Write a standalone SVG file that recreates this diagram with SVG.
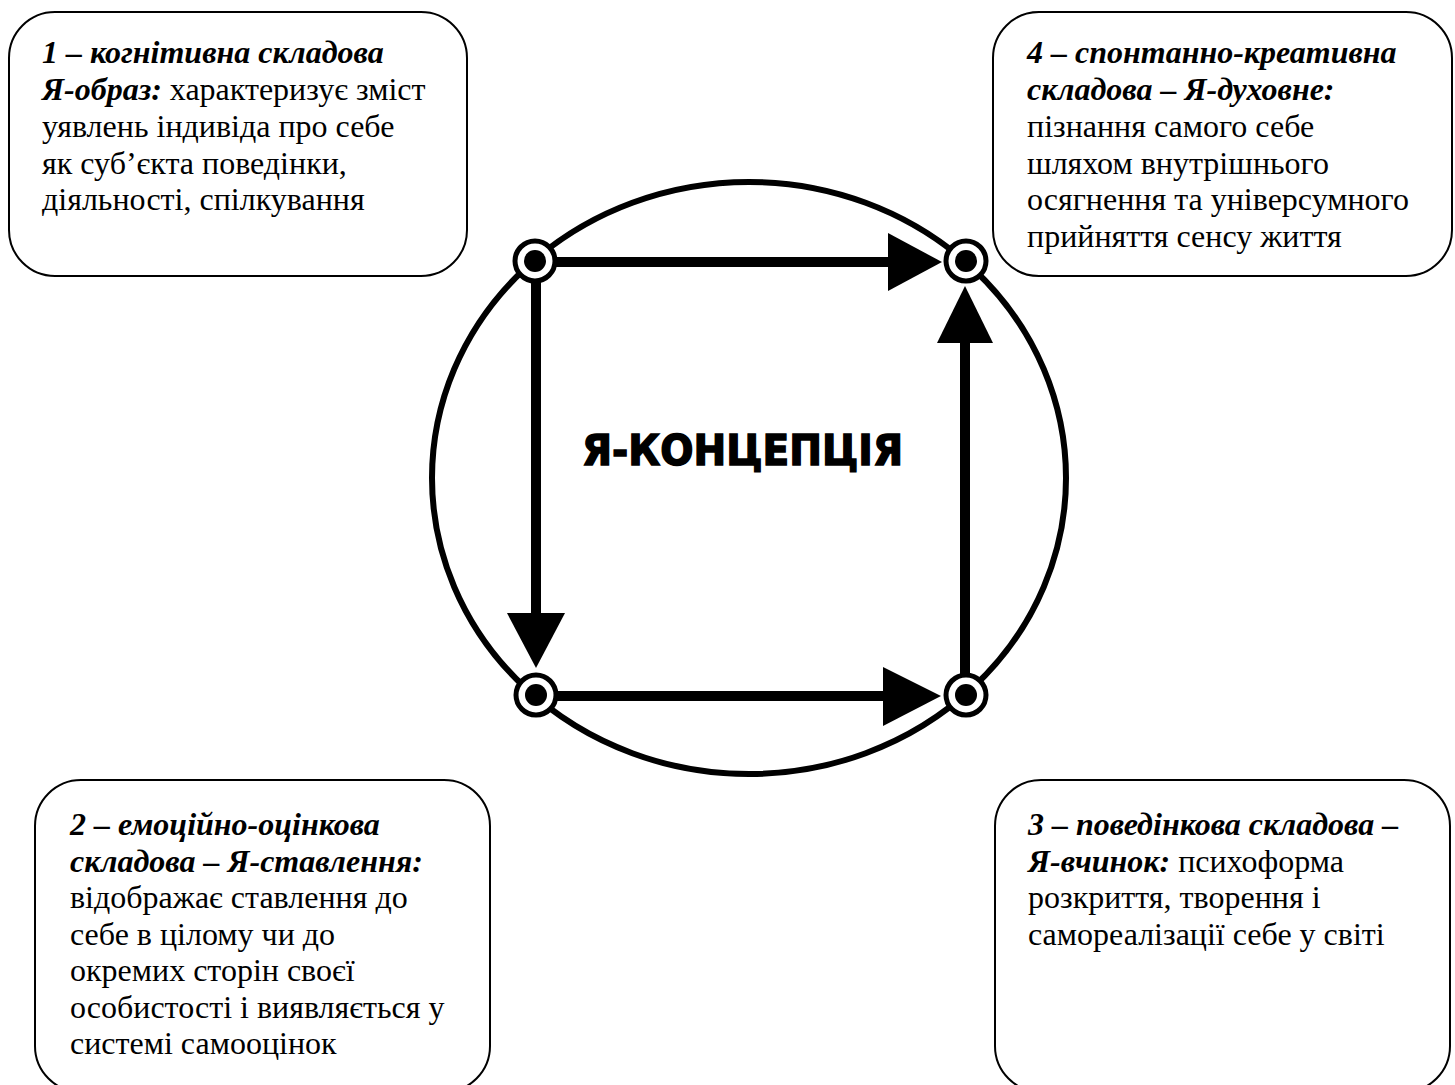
<svg xmlns="http://www.w3.org/2000/svg" width="1455" height="1085" viewBox="0 0 1455 1085">
<style>
.box{fill:#fff;stroke:#000;stroke-width:2}
.t{font-family:"Liberation Serif","Times New Roman",serif;font-size:32px;fill:#000}
.b{font-weight:bold;font-style:italic}
.ring{fill:#fff;stroke:#000;stroke-width:5}
.dot{fill:#000}
.ln{stroke:#000;stroke-width:10;fill:none}
.ah{fill:#000}
.center{font-family:"DejaVu Sans","Liberation Sans",sans-serif;font-weight:bold;font-size:43px;fill:#000;stroke:#000;stroke-width:1.5}
</style>
<rect width="1455" height="1085" fill="#fff"/>

<g id="box1">
<rect class="box" x="9" y="12" width="458" height="264" rx="46" ry="46"/>
<text class="t" x="42" y="63"><tspan class="b">1 – когнітивна складова</tspan></text>
<text class="t" x="42" y="100"><tspan class="b">Я-образ:</tspan> характеризує зміст</text>
<text class="t" x="42" y="136.5">уявлень індивіда про себе</text>
<text class="t" x="42" y="173.5">як суб’єкта поведінки,</text>
<text class="t" x="42" y="210">діяльності, спілкування</text>
</g>

<g id="box4">
<rect class="box" x="993" y="12" width="459" height="264" rx="46" ry="46"/>
<text class="t" x="1027" y="63"><tspan class="b">4 – спонтанно-креативна</tspan></text>
<text class="t" x="1027" y="100"><tspan class="b">складова – Я-духовне:</tspan></text>
<text class="t" x="1027" y="136.5">пізнання самого себе</text>
<text class="t" x="1027" y="173.5">шляхом внутрішнього</text>
<text class="t" x="1027" y="210">осягнення та універсумного</text>
<text class="t" x="1027" y="247">прийняття сенсу життя</text>
</g>

<g id="box2">
<rect class="box" x="35" y="780" width="455" height="312" rx="46" ry="46"/>
<text class="t" x="70" y="835"><tspan class="b">2 – емоційно-оцінкова</tspan></text>
<text class="t" x="70" y="871.5"><tspan class="b">складова – Я-ставлення:</tspan></text>
<text class="t" x="70" y="908">відображає ставлення до</text>
<text class="t" x="70" y="944.5">себе в цілому чи до</text>
<text class="t" x="70" y="981">окремих сторін своєї</text>
<text class="t" x="70" y="1017.5">особистості і виявляється у</text>
<text class="t" x="70" y="1054">системі самооцінок</text>
</g>

<g id="box3">
<rect class="box" x="995" y="780" width="455" height="312" rx="46" ry="46"/>
<text class="t" x="1028" y="835"><tspan class="b">3 – поведінкова складова –</tspan></text>
<text class="t" x="1028" y="871.5"><tspan class="b">Я-вчинок:</tspan> психоформа</text>
<text class="t" x="1028" y="908">розкриття, творення і</text>
<text class="t" x="1028" y="944.5">самореалізації себе у світі</text>
</g>

<g id="circle">
<ellipse cx="749" cy="478" rx="317" ry="296" fill="none" stroke="#000" stroke-width="6"/>
</g>

<g id="connectors">
<line class="ln" x1="555" y1="262" x2="890" y2="262"/>
<polygon class="ah" points="888,233 942,262 888,291"/>
<line class="ln" x1="536" y1="282" x2="536" y2="615"/>
<polygon class="ah" points="507,613 565,613 536,668"/>
<line class="ln" x1="556" y1="696" x2="885" y2="696"/>
<polygon class="ah" points="883,667 941,696 883,726"/>
<line class="ln" x1="965" y1="675" x2="965" y2="341"/>
<polygon class="ah" points="937,343 993,343 965,286"/>
</g>

<g id="node-tl"><circle class="ring" cx="535" cy="261" r="20"/><circle class="dot" cx="535" cy="261" r="11"/></g>
<g id="node-tr"><circle class="ring" cx="966" cy="261" r="20"/><circle class="dot" cx="966" cy="261" r="11"/></g>
<g id="node-bl"><circle class="ring" cx="536" cy="695" r="20"/><circle class="dot" cx="536" cy="695" r="11"/></g>
<g id="node-br"><circle class="ring" cx="966" cy="695" r="20"/><circle class="dot" cx="966" cy="695" r="11"/></g>

<g id="center-label">
<text class="center" x="582" y="465" textLength="321" lengthAdjust="spacingAndGlyphs">Я-КОНЦЕПЦІЯ</text>
</g>
</svg>
